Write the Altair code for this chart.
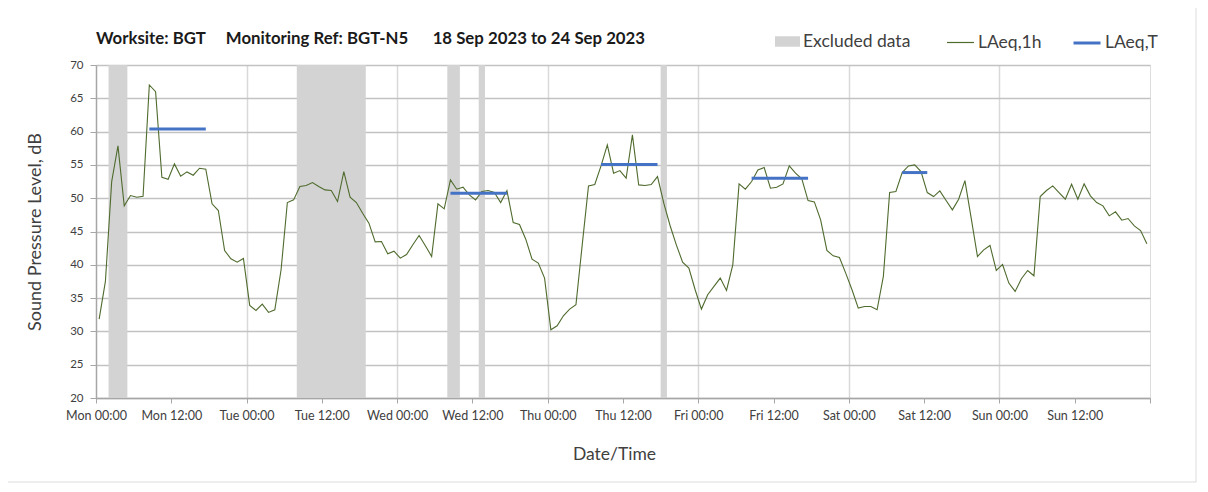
import altair as alt
import pandas as pd

# ---- data ----
days = ["Mon", "Tue", "Wed", "Thu", "Fri", "Sat", "Sun"]

laeq_1h = [
    31.85, 37.5, 52.5, 57.85, 48.85, 50.4, 50.15, 50.3, 67.0, 66.0,
    53.15, 52.85, 55.15, 53.3, 53.95, 53.45, 54.5, 54.35, 49.15, 48.15,
    42.15, 40.9, 40.4, 40.95, 33.9, 33.15, 34.1, 32.85, 33.25, 39.25,
    49.35, 49.75, 51.75, 51.9, 52.35, 51.75, 51.25, 51.15, 49.5, 54.0,
    50.15, 49.35, 47.75, 46.25, 43.45, 43.5, 41.65, 42.05, 41.0, 41.55,
    43.0, 44.4, 42.85, 41.25, 49.15, 48.4, 52.75, 51.35, 51.65, 50.5,
    49.75, 51.0, 51.15, 50.85, 49.35, 51.15, 46.35, 46.05, 43.85, 40.85,
    40.25, 38.0, 30.25, 30.85, 32.35, 33.35, 34.0, 43.0, 51.85, 52.05,
    54.85, 58.0, 53.75, 54.15, 53.0, 59.5, 52.0, 51.9, 52.05, 53.25,
    49.25, 45.9, 43.0, 40.4, 39.5, 36.25, 33.35, 35.5, 36.75, 38.0,
    36.15, 40.0, 52.15, 51.35, 52.5, 54.25, 54.6, 51.5, 51.65, 52.15,
    54.85, 53.75, 52.9, 49.65, 49.45, 46.75, 42.15, 41.35, 41.1, 38.75,
    36.25, 33.5, 33.75, 33.75, 33.25, 38.25, 50.85, 51.0, 53.85, 54.85,
    55.0, 54.0, 50.85, 50.25, 51.1, 49.65, 48.25, 49.85, 52.65, 47.0,
    41.25, 42.25, 42.9, 39.15, 40.05, 37.25, 36.0, 37.9, 39.15, 38.35,
    50.25, 51.15, 51.85, 50.85, 49.85, 52.1, 49.85, 52.15, 50.35, 49.35,
    48.85, 47.35, 47.95, 46.7, 46.95, 45.85, 45.15, 43.15,
]

# excluded periods (hour from Mon 00:00)
excl_start = [2, 32, 56, 61, 90]
excl_end = [5, 43, 58, 62, 91]

# LAeq,T periods (first and last hour index) and levels
laeqT_start = [8, 56, 80, 104, 128]
laeqT_end = [17, 65, 89, 113, 132]
laeqT_value = [60.4, 50.75, 55.05, 53.0, 53.85]

title_text = ("Worksite: BGT" + "\u00a0" * 5 + "Monitoring Ref: BGT-N5" + "\u00a0" * 6 +
              "18 Sep 2023 to 24 Sep 2023")

# ---- tables ----
df_line = pd.DataFrame({
    "t": [i + 0.5 for i in range(len(laeq_1h))],
    "v": laeq_1h,
    "series": "LAeq,1h",
})
df_excl = pd.DataFrame({"start": excl_start, "end": excl_end, "series": "Excluded data"})
df_T = pd.DataFrame({
    "s": [a + 0.5 for a in laeqT_start],
    "e": [b + 0.5 for b in laeqT_end],
    "v": laeqT_value,
    "series": "LAeq,T",
})

W, H = 1054, 333
FONT = "Lato"
TXT = "#404040"

xscale = alt.Scale(domain=[0, 168], nice=False, zero=False)
yscale = alt.Scale(domain=[20, 70], nice=False, zero=False)

day_arr = "[" + ",".join(f"'{d}'" for d in days) + "]"
label_expr = (f"datum.value >= 168 ? '' : {day_arr}[floor(datum.value/24)] + "
              "(datum.value % 24 == 0 ? ' 00:00' : ' 12:00')")

xaxis = alt.Axis(
    values=list(range(0, 169, 12)), labelExpr=label_expr, title="Date/Time",
    labelOverlap=False, labelBound=False, labelFlush=False,
    grid=True,
    gridOpacity={"condition": {"test": "datum.value % 24 == 0 && datum.value > 0 && datum.value < 168",
                               "value": 1}, "value": 0},
    gridColor="#d9d9d9", gridWidth=1.5,
    tickSize=5, tickColor="#a6a6a6", domainColor="#a6a6a6", domainWidth=1.5,
    labelFontSize=12.5, labelColor=TXT, labelFont=FONT, labelPadding=6,
    titleFontSize=17.5, titleFont=FONT, titleColor=TXT, titleFontWeight="normal",
    titlePadding=24, titleX=518,
)
yaxis = alt.Axis(
    values=list(range(20, 71, 5)), title="Sound Pressure Level, dB",
    grid=True, gridColor="#c2c2c2", gridWidth=1.5,
    tickSize=6, tickColor="#a6a6a6", domainColor="#a6a6a6", domainWidth=1.5,
    labelFontSize=11.5, labelColor=TXT, labelFont=FONT, labelPadding=7,
    titleFontSize=18, titleFont=FONT, titleColor=TXT, titleFontWeight="normal",
    titlePadding=25,
)

def legend(x, y, **kw):
    return alt.Legend(orient="none", legendX=x, legendY=y, direction="horizontal",
                      title=None, labelFontSize=17.5, labelFont=FONT, labelColor=TXT,
                      padding=0, labelOffset=3, **kw)

bands = alt.Chart(df_excl).mark_rect().encode(
    x=alt.X("start:Q", scale=xscale, axis=xaxis),
    x2="end:Q",
    y=alt.YDatum(20, scale=yscale, axis=yaxis),
    y2=alt.Y2Datum(70),
    color=alt.Color("series:N", scale=alt.Scale(domain=["Excluded data"], range=["#d3d3d3"]),
                    legend=legend(679, -36, symbolType="M-1,-0.42H1V0.42H-1Z",
                                  symbolSize=625, symbolStrokeWidth=0, symbolOpacity=1)),
)

line = alt.Chart(df_line).mark_line(strokeWidth=1.1).encode(
    x=alt.X("t:Q", scale=xscale, axis=xaxis),
    y=alt.Y("v:Q", scale=yscale, axis=yaxis),
    color=alt.Color("series:N", scale=alt.Scale(domain=["LAeq,1h"], range=["#4f6b2e"]),
                    legend=legend(850, -37, symbolType="stroke", symbolSize=729,
                                  symbolStrokeWidth=1.2)),
)

rules = alt.Chart(df_T).mark_rule(strokeWidth=3).encode(
    x=alt.X("s:Q", scale=xscale, axis=xaxis),
    x2="e:Q",
    y=alt.Y("v:Q", scale=yscale, axis=yaxis),
    color=alt.Color("series:N", scale=alt.Scale(domain=["LAeq,T"], range=["#4472c4"]),
                    legend=legend(976, -37, symbolType="stroke", symbolSize=729,
                                  symbolStrokeWidth=3)),
)

single = alt.Data(values=[{"f": 1}])

frame = alt.Chart(single).mark_rect(
    fill=None, stroke="#dcdcdc", strokeWidth=1
).encode(
    x=alt.value(-92), x2=alt.value(1100), y=alt.value(-61), y2=alt.value(417)
)

title = alt.Chart(single).mark_text(
    align="left", baseline="alphabetic", font=FONT, fontSize=16.8, fontWeight="bold",
    color="#1a1a1a"
).encode(
    x=alt.value(0), y=alt.value(-21), text=alt.value(title_text)
)

chart = alt.layer(frame, bands, line, rules, title).resolve_scale(
    color="independent"
).properties(
    width=W, height=H,
    autosize=alt.AutoSizeParams(type="none"),
    padding={"left": 88, "top": 57, "right": 50, "bottom": 86},
).configure_view(
    stroke="#a6a6a6", strokeWidth=1.5
).configure(background="white")

chart.save("out.html", embed_options={"renderer": "svg", "actions": False})
